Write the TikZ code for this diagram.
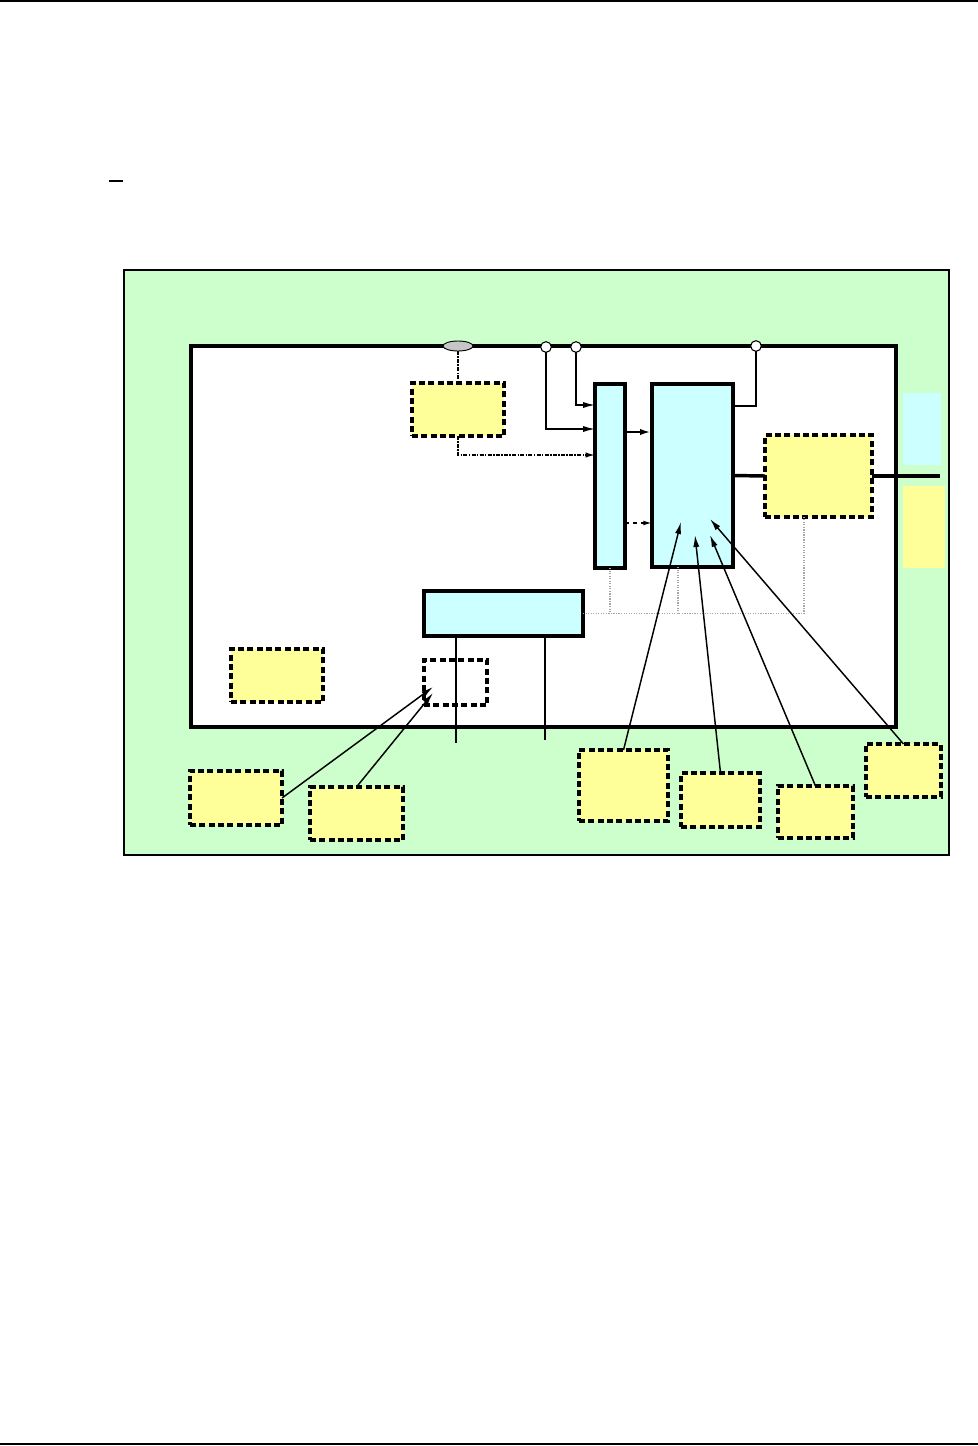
\documentclass[tikz,border=0pt]{standalone}
\usepackage{tikz}
\usetikzlibrary{shapes.geometric,arrows.meta}
\definecolor{boardgreen}{HTML}{CCFFCC}
\definecolor{unitcyan}{HTML}{CCFFFF}
\definecolor{noteyellow}{HTML}{FFFF99}
\tikzset{
	>={Latex[length=9pt,width=4.6pt]}, % arrow heads
	every node/.style={inner sep=0pt, outer sep=0pt}, % nodes are only boxes here
	wh/.style 2 args={rectangle, minimum width=#1*0.75pt, minimum height=#2*0.75pt}, % size in pixels of the sheet
	unit/.style={draw, fill=unitcyan, line width=2.6pt}, % the cyan blocks
	note/.style={draw, fill=noteyellow, line width=2.3pt, dash pattern=on 4.5pt off 2.5pt}, % the yellow dashed boxes
	pin/.style={circle, draw, fill=white, minimum size=8pt, line width=0.8pt}, % pins on the chip edge
	wire/.style={line width=1.1pt}, % thin connectors
	bus/.style={gray!70, densely dotted, line width=0.9pt}, % the gray dotted bus
}

\begin{document}
\begin{tikzpicture}[x=0.75pt,y=-0.75pt]
	\useasboundingbox (0,0) rectangle (978,1446);
	% page rules
	\draw[line width=1.8pt] (0,1) -- (978,1);
	\draw[line width=1.2pt] (0,1444) -- (978,1444);
	\draw[line width=1.6pt] (109,181) -- (123,181);
	
	% board and chip
	\node[wh={825}{585}, draw, fill=boardgreen, line width=1.3pt] (board) at (536.5,562.5) {};
	\node[wh={705}{381}, draw, fill=white, line width=3.6pt] (chip) at (543.5,536.5) {};
	\node[wh={38}{72}, fill=unitcyan] (cstrip) at (922,429) {};
	\node[wh={42}{82}, fill=noteyellow] (ystrip) at (924,527) {};
	
	% on the chip edge
	\node[ellipse, draw, fill=gray!45, line width=0.7pt, minimum width=22.5pt, minimum height=7.5pt] (gate) at (458,346) {};
	\node[pin] (p1) at (546,347) {};
	\node[pin] (p2) at (576,347) {};
	\node[pin] (p3) at (756,346) {};
	
	% blocks
	\node[wh={92}{53}, note] (a) at (458,409.5) {};
	\node[wh={30}{184}, unit] (b) at (610,476) {};
	\node[wh={81}{183}, unit] (c) at (692.5,475.5) {};
	\node[wh={107}{82}, note] (d) at (818.5,476) {};
	\node[wh={159}{45}, unit] (e) at (503.5,613.5) {};
	\node[wh={63}{45}, draw, line width=2.3pt, dash pattern=on 4.5pt off 2.5pt] (f) at (455.5,682.5) {};
	\node[wh={92}{53}, note] (g) at (277,675.5) {};
	\node[wh={92}{54}, note] (h) at (236,798) {};
	\node[wh={93}{53}, note] (i) at (356.5,813.5) {};
	\node[wh={89}{71}, note] (j) at (623.5,785.5) {};
	\node[wh={79}{54}, note] (k) at (720.5,800) {};
	\node[wh={75}{52}, note] (l) at (815.5,812) {};
	\node[wh={75}{53}, note] (m) at (903.5,770.5) {};
	
	\coordinate (out) at (940,476);
	\coordinate (ctap) at (678,613.5);
	\coordinate (f1) at (433,687);
	\coordinate (f2) at (433,693);
	
	% connectors
	\draw[wire, densely dash dot] (gate.south) -- (a.north);
	\draw[wire, densely dash dot, -{Latex[length=7pt,width=4pt]}] (a.south) |- (b.west |- 0,455);
	\draw[wire, ->] (p1.south) |- (b.west |- 0,429);
	\draw[wire, ->] (p2.south) |- (b.west |- 0,405);
	\draw[line width=1.8pt, ->] (b.east |- 0,432) -- (c.west |- 0,432);
	\draw[wire, dashed, -{Latex[length=6.5pt,width=3.6pt]}] (b.east |- 0,523) -- (c.west |- 0,523);
	\draw[wire] (c.east |- 0,406) -| (p3.south);
	\draw[line width=2.6pt] (c.east) -- (d.west);
	\draw[line width=2.6pt] (d.east) -- (out);
	
	\draw[bus] (e.east) -| (d.south -| 804,0);
	\draw[bus] (b.south) -- (b.south |- e.east);
	\draw[bus] (c.south -| 678,0) -- (ctap);
	\draw[wire] (e.south -| 456,0) -- ++(0,107);
	\draw[wire] (e.south -| 545,0) -- ++(0,104);
	
	\draw[wire, ->] (h.east) -- (f1);
	\draw[wire, ->] (i.north) -- (f2);
	\draw[wire, ->] (j.north) -- (681,522);
	\draw[wire, ->] (k.north) -- (695,535);
	\draw[wire, ->] (l.north) -- (710,535);
	\draw[wire, ->] (m.north) -- (710,519);
\end{tikzpicture}
\end{document}
